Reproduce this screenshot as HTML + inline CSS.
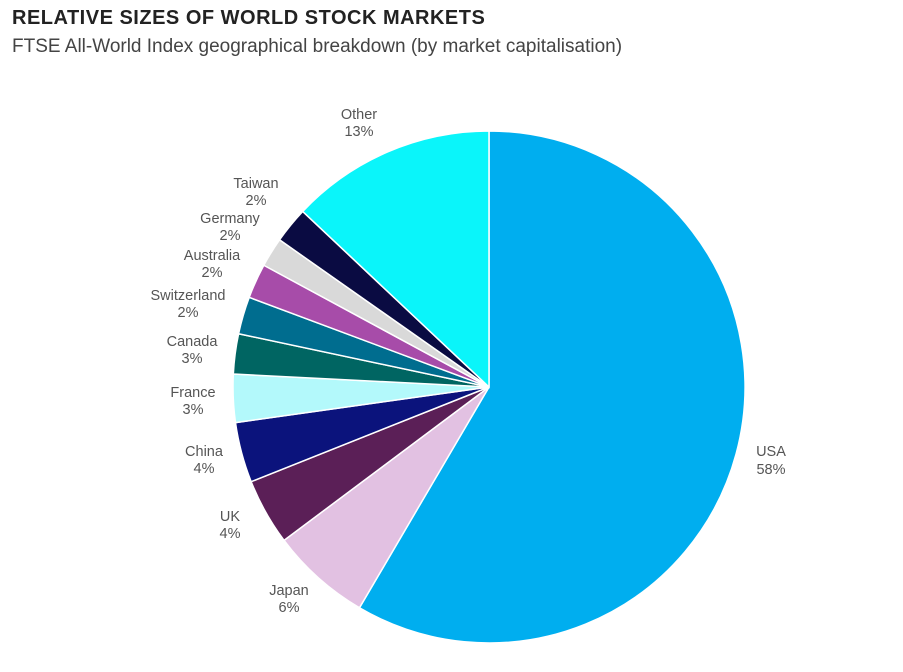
<!DOCTYPE html>
<html><head><meta charset="utf-8"><style>
body{margin:0;background:#fff;width:903px;height:672px;overflow:hidden;font-family:"Liberation Sans",sans-serif}
.t{position:absolute;left:12px;top:7px;font-size:20px;font-weight:bold;color:#222;letter-spacing:0.5px}
.s{position:absolute;left:12px;top:36px;font-size:19px;color:#444}
</style></head><body>
<div class="t">RELATIVE SIZES OF WORLD STOCK MARKETS</div>
<div class="s">FTSE All-World Index geographical breakdown (by market capitalisation)</div>
<svg width="903" height="672" style="position:absolute;left:0;top:0" id="sv">
<g id="pie" stroke="#fff" stroke-width="1.5"></g>
<g font-size="14.5" fill="#555" text-anchor="middle" font-family="Liberation Sans,sans-serif">
<text x="359" y="119">Other</text><text x="359" y="136">13%</text>
<text x="256" y="188">Taiwan</text><text x="256" y="205">2%</text>
<text x="230" y="223">Germany</text><text x="230" y="240">2%</text>
<text x="212" y="260">Australia</text><text x="212" y="277">2%</text>
<text x="188" y="300">Switzerland</text><text x="188" y="317">2%</text>
<text x="192" y="346">Canada</text><text x="192" y="363">3%</text>
<text x="193" y="397">France</text><text x="193" y="414">3%</text>
<text x="204" y="456">China</text><text x="204" y="473">4%</text>
<text x="230" y="521">UK</text><text x="230" y="538">4%</text>
<text x="289" y="595">Japan</text><text x="289" y="612">6%</text>
<text x="771" y="456">USA</text><text x="771" y="474">58%</text>
</g>
</svg>
<script>
var cx=489,cy=387,r=256;
var d=[[210.4,"#00aeef"],[233.2,"#e2c1e2"],[248.3,"#5b1f57"],[262,"#0b137c"],[272.9,"#b3f9fb"],[282,"#006562"],[290.5,"#006d8f"],[298.4,"#a74ca9"],[305.1,"#d9d9d9"],[313.3,"#0a0b42"],[360,"#0af5fa"]];
var p=0,g=document.getElementById("pie"),h="";
function pt(a){a=a*Math.PI/180;return (cx+r*Math.sin(a)).toFixed(2)+","+(cy-r*Math.cos(a)).toFixed(2);}
d.forEach(function(s){var e=s[0];h+='<path d="M'+cx+','+cy+' L'+pt(p)+' A'+r+','+r+' 0 '+((e-p)>180?1:0)+' 1 '+pt(e)+' Z" fill="'+s[1]+'"/>';p=e;});
g.innerHTML=h;
</script>
</body></html>
